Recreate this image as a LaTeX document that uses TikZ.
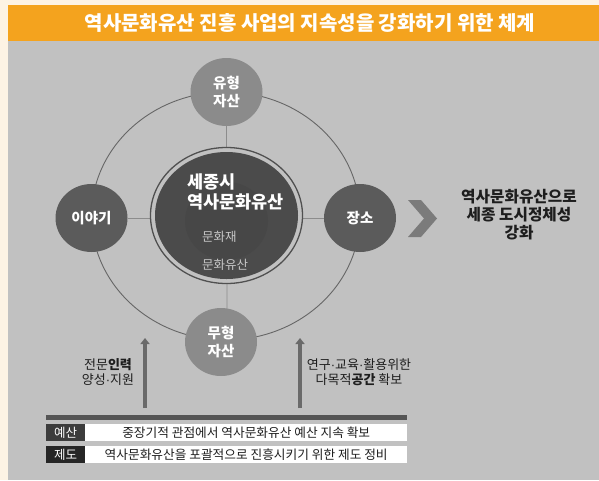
\documentclass[tikz,border=0pt]{standalone}
\usepackage{fontspec}
\setmainfont{Noto Sans CJK KR}
\newfontfamily\dotfont{Liberation Sans}
\newcommand\mdot{{\dotfont\char"00B7}}
\usetikzlibrary{shapes.geometric,arrows.meta,backgrounds}
\definecolor{cream}{HTML}{FDF3E4}
\definecolor{orng}{HTML}{F4A31E}
\definecolor{panel}{HTML}{C1C1C1}
\definecolor{orbitc}{HTML}{666666}
\definecolor{spokec}{HTML}{8C8C8C}
\definecolor{lightc}{HTML}{8B8B8B}
\definecolor{darkc}{HTML}{5B5B5B}
\definecolor{coreline}{HTML}{505050}
\definecolor{corefill}{HTML}{4B4B4B}
\definecolor{coreinner}{HTML}{474747}
\definecolor{chev}{HTML}{7B7B7B}
\definecolor{arrc}{HTML}{6A6A6A}
\definecolor{barc}{HTML}{555555}
\definecolor{tagA}{HTML}{3C3C3C}
\definecolor{tagB}{HTML}{262626}
\definecolor{txtc}{HTML}{1E1E1E}
\tikzset{
  sat/.style={ellipse, minimum width=72pt, minimum height=68pt, inner sep=0pt, text=white, align=center,
    font=\fontsize{14.5}{17.5}\selectfont\bfseries},
  satlight/.style={sat, fill=lightc},
  satdark/.style={sat, fill=darkc},
  spoke/.style={draw=spokec, line width=0.8pt},
  uparrow/.style={draw=arrc, line width=3.5pt, -{Triangle[length=6pt,width=9pt]}},
  lbl/.style={align=center, text=txtc, font=\fontsize{13}{15}\selectfont},
  tag/.style={minimum width=39pt, minimum height=17pt, inner sep=0pt, text=white, font=\fontsize{12.5}{14}\selectfont},
  rowbox/.style={fill=white, minimum width=322pt, minimum height=17pt, inner sep=0pt, text=txtc, font=\fontsize{12.7}{14}\selectfont}
}
\begin{document}
\begin{tikzpicture}[x=1pt,y=-1pt]
\useasboundingbox (0,0) rectangle (599,480);
\node[text=white, font=\fontsize{20}{22}\selectfont\bfseries] (title) at (310,23) {역사문화유산 진흥 사업의 지속성을 강화하기 위한 체계};

% satellites
\node[satlight] (top) at (226.5,92) {유형\\자산};
\node[satlight] (bot) at (221,342) {무형\\자산};
\node[satdark] (left) at (91.5,218) {이야기};
\node[satdark] (right) at (360,218) {장소};
\coordinate (botjoin) at (227,309);

\begin{pgfonlayer}{background}
\fill[cream] (0,0) rectangle (599,480);
\fill[orng] (8,5) rectangle (599,41);
\fill[panel] (8,41) rectangle (599,480);
\draw[orbitc, line width=0.9pt] (225.75,216) ellipse [x radius=134.25, y radius=124];
\draw[spoke] (top.south) -- (botjoin);
\draw[spoke] (left.east) -- (right.west);
\end{pgfonlayer}

% core
\node[ellipse, draw=coreline, line width=1.3pt, fill=panel, minimum width=152pt, minimum height=136pt, inner sep=0pt] (ring) at (226.5,215.5) {};
\node[ellipse, fill=corefill, minimum width=143pt, minimum height=127pt, inner sep=0pt] (core) at (226.5,215.5) {};
\node[ellipse, fill=coreinner, minimum width=83pt, minimum height=78pt, inner sep=0pt] (inner) at (226.5,221) {};
\node[anchor=west, align=left, text=white, font=\fontsize{17.5}{20}\selectfont\bfseries, inner sep=0pt] (coretxt) at (187,192) {세종시\\역사문화유산};
\node[anchor=west, text=white!78!black, font=\fontsize{12.5}{15}\selectfont, inner sep=0pt] (c1) at (202,237) {문화재};
\node[anchor=west, text=white!78!black, font=\fontsize{12.5}{15}\selectfont, inner sep=0pt] (c2) at (202,265) {문화유산};

% chevron
\fill[chev] (408,200) -- (421,200) -- (437,218.5) -- (421,237) -- (408,237) -- (424,218.5) -- cycle;
\node[align=center, text=txtc, font=\fontsize{15.7}{18}\selectfont\bfseries] (goal) at (519,215) {역사문화유산으로\\세종 도시정체성\\강화};

% arrows
\coordinate (a1s) at (145,408);
\coordinate (a1e) at (145,338);
\coordinate (a2s) at (300,408);
\coordinate (a2e) at (300,338);
\draw[uparrow] (a1s) -- (a1e);
\draw[uparrow] (a2s) -- (a2e);
\node[lbl] (l1) at (108,372.5) {전문\textbf{인력}\\양성\mdot 지원};
\node[lbl] (l2) at (359,372.5) {연구\mdot 교육\mdot 활용위한\\다목적\textbf{공간} 확보};

% bar
\fill[barc] (46,415) rectangle (407,419.5);
\node[tag, fill=tagA, anchor=north west] (t1) at (46,424) {예산};
\node[rowbox, anchor=north west] (r1) at (85,424) {중장기적 관점에서 역사문화유산 예산 지속 확보};
\node[tag, fill=tagB, anchor=north west] (t2) at (46,446) {제도};
\node[rowbox, anchor=north west] (r2) at (85,446) {역사문화유산을 포괄적으로 진흥시키기 위한 제도 정비};
\end{tikzpicture}
\end{document}
